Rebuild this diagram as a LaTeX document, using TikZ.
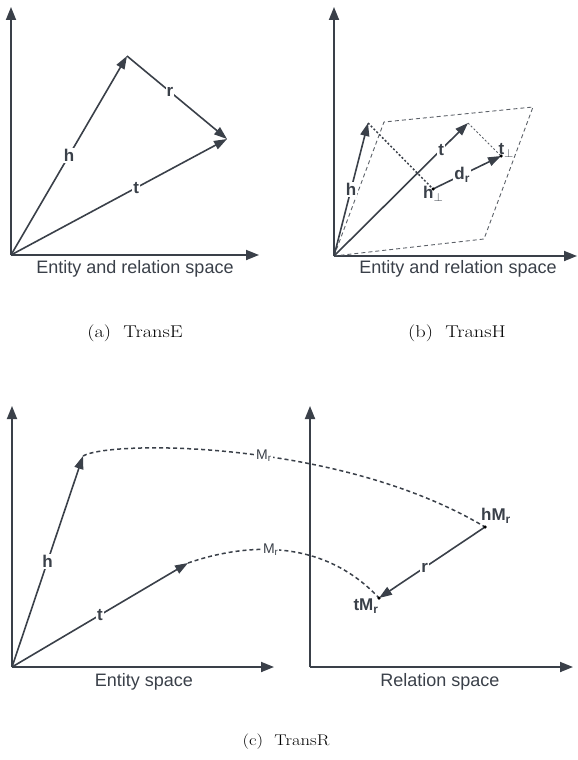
\documentclass[tikz,border=0pt]{standalone}
\usepackage{fontspec}
\usepackage{graphicx}
\usepackage{tikz}
\usetikzlibrary{arrows.meta,positioning,calc}
\newfontfamily\diagfont{Liberation Sans}
\definecolor{VecDark}{HTML}{3A4049}
\definecolor{VecGray}{HTML}{5C6168}
\newcommand{\perpsub}{\raisebox{-3pt}{\fontsize{13}{13}\selectfont$\perp$}}
\newcommand{\wide}[1]{\scalebox{1.2}[1]{#1}}

\begin{document}
\begin{tikzpicture}[x=1pt,y=-1pt,
  axis/.style={-{Triangle[length=13pt,width=10pt]},VecDark,line width=1.8pt},
  vec/.style={-{Triangle[length=13pt,width=9pt]},VecDark,line width=1.6pt},
  lbl/.style={font=\diagfont\fontsize{17}{17}\selectfont\bfseries,text=VecDark,fill=white,inner sep=1pt},
  mlbl/.style={font=\diagfont\fontsize{14}{14}\selectfont,text=VecDark,fill=white,inner sep=1pt},
  spacelbl/.style={font=\diagfont\fontsize{18}{18}\selectfont,text=VecDark},
  captxt/.style={font=\fontsize{17}{17}\selectfont},
  proj/.style={VecDark,line width=1.5pt,dash pattern=on 4pt off 3pt},
  plane/.style={VecGray,line width=0.9pt,dash pattern=on 4pt off 3pt},
  dotline/.style={VecDark,line width=1.5pt,dash pattern=on 2pt off 2pt},
  dotpt/.style={circle,fill=black,inner sep=0pt,minimum size=3.5pt}]
\useasboundingbox (0,0) rectangle (578,760);

\coordinate (oA) at (11,255);
\coordinate (yA) at (11,7);
\coordinate (xA) at (259,255);
\coordinate (hA) at (127,56);
\coordinate (tA) at (227,139);
\draw[axis] (oA) -- (yA);
\draw[axis] (oA) -- (xA);
\draw[vec] (oA) -- node[lbl] (lhA) {h} (hA);
\draw[vec] (hA) -- node[lbl,pos=0.43] (lrA) {r} (tA);
\draw[vec] (oA) -- node[lbl,pos=0.58] (ltA) {t} (tA);
\node[spacelbl] (sA) at (135,269) {Entity and relation space};
\node[captxt] (cA) at (135,333) {\wide{(a)\ \ TransE}};

\coordinate (oB) at (334,256);
\coordinate (yB) at (334,7);
\coordinate (xB) at (577,256);
\coordinate (p1) at (384,122);
\coordinate (p2) at (533,107);
\coordinate (p3) at (484,239);
\coordinate (hB) at (368,123);
\coordinate (tB) at (468,123);
\coordinate (hp) at (433,189);
\coordinate (tp) at (501,156);
\draw[axis] (oB) -- (yB);
\draw[axis] (oB) -- (xB);
\draw[plane] (oB) -- (p1) -- (p2) -- (p3) -- cycle;
\draw[dotline] (hB) -- (hp);
\draw[dotline,VecGray,line width=1pt] (tB) -- (tp);
\draw[vec] (oB) -- node[lbl] (lhB) {h} (hB);
\draw[vec] (oB) -- node[lbl,pos=0.8] (ltB) {t} (tB);
\draw[vec] (hp) -- node[lbl,pos=0.43] (ldB) {d\textsubscript{r}} (tp);
\node[dotpt] (hpd) at (hp) {};
\node[dotpt] (tpd) at (tp) {};
\node[lbl,fill=none] (lhp) at ($(hp)+(0,-4)$) [anchor=north] {h\perpsub};
\node[lbl,fill=none] (ltp) at ($(tp)+(5,-6)$) {t\perpsub};
\node[spacelbl] (sB) at (458,269) {Entity and relation space};
\node[captxt] (cB) at (457,333) {\wide{(b)\ \ TransH}};

\coordinate (oL) at (12,667);
\coordinate (yL) at (12,406);
\coordinate (xL) at (274,667);
\coordinate (hC) at (83,456);
\coordinate (tC) at (188,563);
\coordinate (oR) at (310,667);
\coordinate (yR) at (310,406);
\coordinate (xR) at (573,667);
\coordinate (hM) at (485,527);
\coordinate (tM) at (379,598);
\draw[axis] (oL) -- (yL);
\draw[axis] (oL) -- (xL);
\draw[axis] (oR) -- (yR);
\draw[axis] (oR) -- (xR);
\draw[vec] (oL) -- node[lbl] (lhC) {h} (hC);
\draw[vec] (oL) -- node[lbl] (ltC) {t} (tC);
\draw[proj] (hC) .. controls (110,440) and (340,440) .. node[mlbl,pos=0.55] (mh) {M\textsubscript{r}} (hM);
\draw[proj] (tC) .. controls (240,545) and (320,535) .. node[mlbl,pos=0.45] (mt) {M\textsubscript{r}} (tM);
\draw[vec] (hM) -- node[lbl,pos=0.57] (lrC) {r} (tM);
\node[dotpt] (hMd) at (hM) {};
\node[dotpt] (tMd) at (tM) {};
\node[lbl,fill=none] (lhM) at ($(hM)+(11,-11)$) {hM\textsubscript{r}};
\node[lbl,fill=none] (ltM) at ($(tM)+(-13,8)$) {tM\textsubscript{r}};
\node[spacelbl] (sL) at (144,682) {Entity space};
\node[spacelbl] (sR) at (440,682) {Relation space};
\node[captxt,font=\fontsize{15.5}{15.5}\selectfont] (cC) at (286,742) {\wide{(c)\ \ TransR}};
\end{tikzpicture}
\end{document}
